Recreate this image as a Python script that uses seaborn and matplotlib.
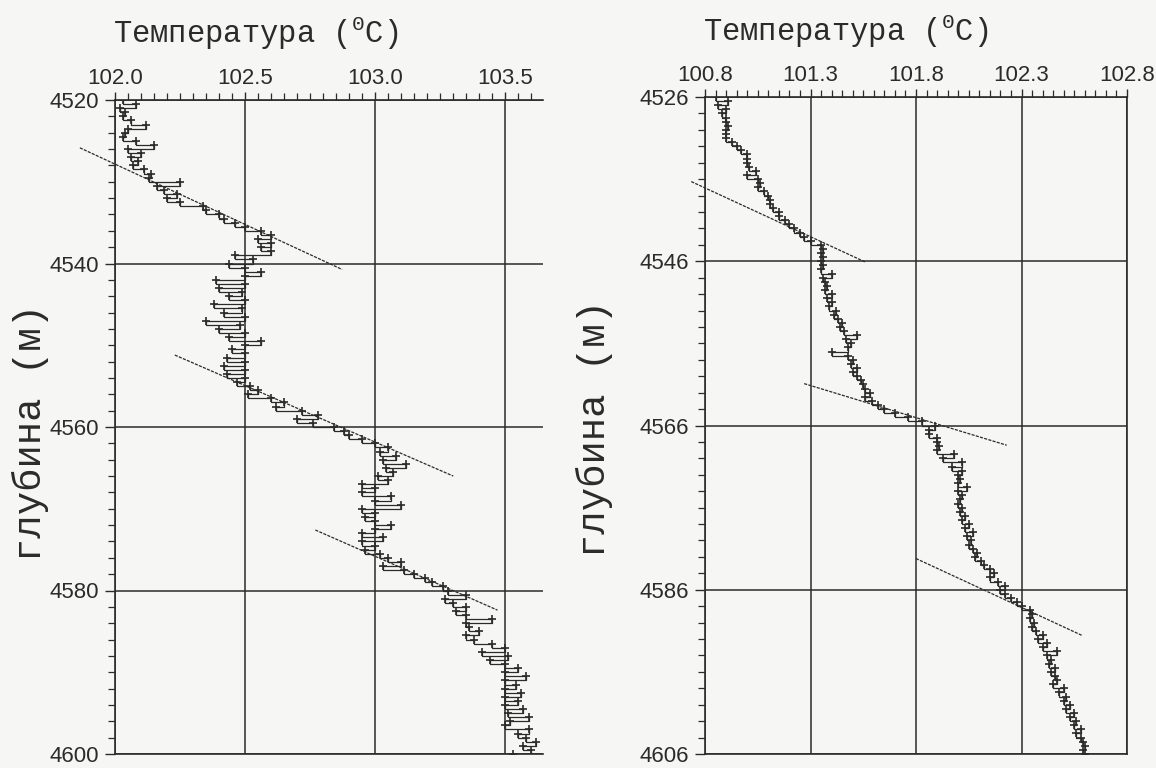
import numpy as np
import matplotlib
matplotlib.use("Agg")
import matplotlib.pyplot as plt
import seaborn as sns
from matplotlib.ticker import MultipleLocator, FormatStrFormatter

# ---------------- data ----------------
depth_left = np.arange(4520.0, 4600.01, 0.5)
temp_left = [
    102.03, 102.08, 102.02, 102.04, 102.03, 102.06, 102.12, 102.05, 102.04, 102.03,
    102.08, 102.15, 102.05, 102.10, 102.06, 102.09, 102.07, 102.11, 102.14, 102.13,
    102.25, 102.16, 102.19, 102.24, 102.20, 102.25, 102.34, 102.35, 102.40, 102.42,
    102.46, 102.50, 102.56, 102.60, 102.55, 102.60, 102.56, 102.60, 102.46, 102.53,
    102.44, 102.50, 102.56, 102.50, 102.39, 102.50, 102.40, 102.49, 102.44, 102.50,
    102.38, 102.49, 102.42, 102.50, 102.35, 102.48, 102.40, 102.50, 102.44, 102.56,
    102.50, 102.45, 102.50, 102.43, 102.50, 102.42, 102.50, 102.43, 102.50, 102.47,
    102.52, 102.55, 102.51, 102.60, 102.65, 102.62, 102.72, 102.78, 102.70, 102.76,
    102.84, 102.88, 102.90, 102.95, 103.00, 103.05, 103.02, 103.08, 103.03, 103.12,
    103.04, 103.07, 103.01, 103.05, 102.95, 103.00, 102.95, 103.06, 103.00, 103.10,
    102.95, 103.00, 102.96, 103.00, 103.06, 103.00, 102.95, 103.03, 102.95, 103.00,
    102.96, 103.02, 103.05, 103.10, 103.03, 103.11, 103.15, 103.19, 103.22, 103.26,
    103.28, 103.35, 103.27, 103.30, 103.35, 103.31, 103.35, 103.45, 103.35, 103.36,
    103.40, 103.35, 103.38, 103.45, 103.50, 103.41, 103.51, 103.44, 103.50, 103.55,
    103.50, 103.58, 103.50, 103.54, 103.50, 103.56, 103.50, 103.55, 103.50, 103.57,
    103.51, 103.59, 103.52, 103.50, 103.59, 103.55, 103.58, 103.62, 103.57, 103.60,
    103.53,
]

depth_right = np.arange(4526.0, 4606.01, 0.5)
temp_right = [
    100.85, 100.91, 100.86, 100.90, 100.88, 100.90, 100.90, 100.91, 100.90, 100.90,
    100.90, 100.93, 100.95, 100.97, 101.00, 101.00, 101.00, 101.01, 101.04, 101.00,
    101.05, 101.06, 101.05, 101.08, 101.10, 101.11, 101.11, 101.12, 101.15, 101.15,
    101.18, 101.20, 101.22, 101.25, 101.27, 101.30, 101.35, 101.36, 101.35, 101.36,
    101.35, 101.36, 101.35, 101.40, 101.36, 101.37, 101.38, 101.37, 101.40, 101.38,
    101.40, 101.39, 101.42, 101.41, 101.43, 101.45, 101.44, 101.46, 101.52, 101.47,
    101.49, 101.48, 101.40, 101.48, 101.50, 101.49, 101.52, 101.50, 101.52, 101.54,
    101.55, 101.56, 101.58, 101.56, 101.59, 101.62, 101.65, 101.70, 101.76, 101.83,
    101.89, 101.86, 101.86, 101.90, 101.90, 101.91, 101.90, 101.98, 101.93, 102.02,
    101.97, 102.02, 102.00, 102.01, 102.00, 102.04, 102.00, 102.02, 102.01, 102.00,
    102.02, 102.01, 102.03, 102.02, 102.05, 102.03, 102.07, 102.04, 102.06, 102.05,
    102.07, 102.09, 102.08, 102.11, 102.12, 102.15, 102.17, 102.15, 102.19, 102.22,
    102.20, 102.22, 102.25, 102.28, 102.30, 102.34, 102.35, 102.34, 102.36, 102.35,
    102.37, 102.40, 102.38, 102.42, 102.40, 102.47, 102.42, 102.44, 102.43, 102.46,
    102.44, 102.46, 102.47, 102.45, 102.50, 102.48, 102.51, 102.50, 102.53, 102.51,
    102.55, 102.53, 102.56, 102.55, 102.58, 102.56, 102.58, 102.59, 102.60, 102.59,
    102.60,
]

# straight-line fits (start, end)
fit_left_T = [[101.865, 102.873], [102.23, 103.30], [102.77, 103.47]]
fit_left_D = [[4525.85, 4540.73], [4551.2, 4566.0], [4572.6, 4582.4]]
fit_right_T = [[100.735, 101.56], [101.27, 102.23], [101.80, 102.59]]
fit_right_D = [[4536.3, 4546.1], [4560.9, 4568.4], [4582.2, 4591.6]]

left_xticks = [102.0, 102.5, 103.0, 103.5]
left_yticks = [4520, 4540, 4560, 4580, 4600]
right_xticks = [100.8, 101.3, 101.8, 102.3, 102.8]
right_yticks = [4526, 4546, 4566, 4586, 4606]

title_text = r"Температура ($^{\mathregular{0}}$C)"
ylabel_text = "глубина (м)"

# ---------------- style ----------------
sns.set_theme(style="white")
plt.rcParams["font.family"] = ["Liberation Sans", "DejaVu Sans"]
INK = "#2b2b2b"
PAPER = "#f6f6f4"

fig = plt.figure(figsize=(11.56, 7.68), dpi=100, facecolor=PAPER)
W, H = 1156, 768


def px_axes(x0, x1, y0, y1):
    return fig.add_axes([x0 / W, 1 - y1 / H, (x1 - x0) / W, (y1 - y0) / H])


axL = px_axes(115, 543, 100, 754)
axR = px_axes(705, 1127, 97, 754)


def style_axis(ax, xlim, ylim, xticks, yticks, right_spine):
    ax.set_facecolor(PAPER)
    ax.set_xlim(*xlim)
    ax.set_ylim(ylim[1], ylim[0])
    ax.set_xticks(xticks)
    ax.set_yticks(yticks)
    ax.xaxis.set_minor_locator(MultipleLocator(0.05))
    ax.yaxis.set_minor_locator(MultipleLocator(2))
    ax.xaxis.set_major_formatter(FormatStrFormatter("%.1f"))
    ax.xaxis.tick_top()
    ax.tick_params(axis="x", which="major", top=True, bottom=False, labeltop=True,
                   labelbottom=False, direction="out", length=6, width=1.0,
                   color=INK, labelsize=16, labelcolor=INK, pad=2)
    ax.tick_params(axis="x", which="minor", top=True, bottom=False, direction="out",
                   length=5, width=0.9, color=INK)
    ax.tick_params(axis="y", which="major", left=True, right=False, direction="out",
                   length=7.5, width=1.0, color=INK, labelsize=16, labelcolor=INK,
                   pad=4)
    ax.tick_params(axis="y", which="minor", left=True, right=False, direction="out",
                   length=5, width=0.9, color=INK)
    ax.grid(True, which="major", color=INK, linewidth=1.1)
    ax.grid(False, which="minor")
    for side in ["left", "top", "bottom"]:
        ax.spines[side].set_visible(True)
        ax.spines[side].set_color(INK)
        ax.spines[side].set_linewidth(1.2)
    ax.spines["right"].set_visible(right_spine)
    ax.spines["right"].set_color(INK)
    ax.spines["right"].set_linewidth(1.2)
    ax.set_xlabel("")
    ax.set_ylabel("")


def draw_profile(ax, temps, depths, fitT, fitD):
    sns.lineplot(x=temps, y=depths, orient="y", sort=False, estimator=None, ax=ax,
                 color=INK, linewidth=0.9, marker="+", markersize=6,
                 markeredgewidth=1.2, markeredgecolor=INK, drawstyle="steps-pre")
    for t, d in zip(fitT, fitD):
        ax.plot(t, d, color=INK, linewidth=0.9, linestyle=(0, (2.5, 1.0)),
                clip_on=False)


draw_profile(axL, temp_left, depth_left, fit_left_T, fit_left_D)
draw_profile(axR, temp_right, depth_right, fit_right_T, fit_right_D)

style_axis(axL, (102.0, 103.645), (4520, 4600), left_xticks, left_yticks, False)
style_axis(axR, (100.8, 102.8), (4526, 4606), right_xticks, right_yticks, True)

mono = ["Liberation Mono", "DejaVu Sans Mono"]
fig.text(113 / W, 1 - 33 / H, title_text, fontsize=22, family=mono, color=INK,
         ha="left", va="center")
fig.text(703 / W, 1 - 31 / H, title_text, fontsize=22, family=mono, color=INK,
         ha="left", va="center")
fig.text(30 / W, 1 - 432 / H, ylabel_text, fontsize=28, family=mono, color=INK,
         rotation=90, ha="center", va="center")
fig.text(594 / W, 1 - 428 / H, ylabel_text, fontsize=28, family=mono, color=INK,
         rotation=90, ha="center", va="center")

fig.savefig("out.png", dpi=100, facecolor=PAPER)
